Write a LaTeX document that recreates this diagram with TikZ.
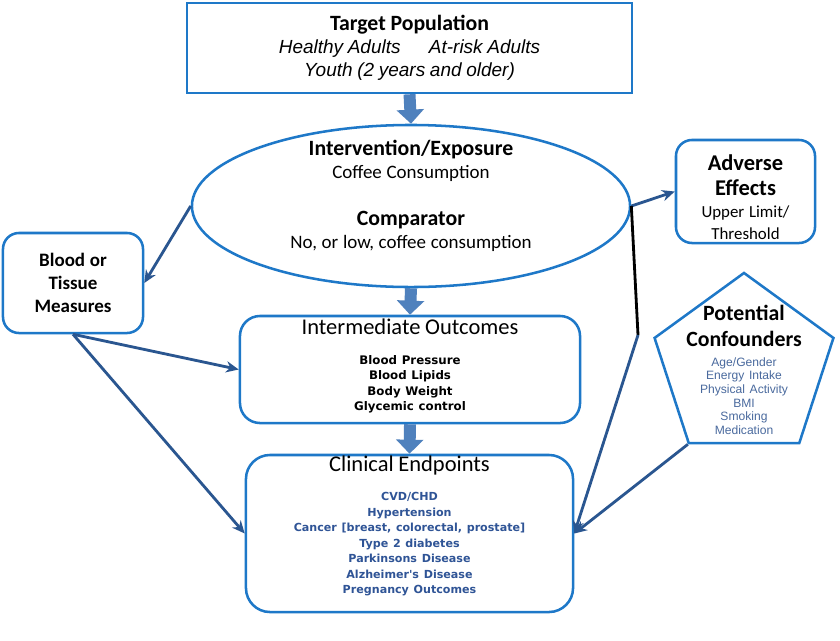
\documentclass[tikz,border=0pt]{standalone}
\usepackage{fontspec}
\setmainfont{Carlito}
\newfontfamily\arialfont{Liberation Sans}
\newfontfamily\verdfont{DejaVu Sans}
\usetikzlibrary{arrows.meta,shapes.geometric}

\definecolor{boxblue}{HTML}{1E78C8}
\definecolor{arrowblue}{HTML}{2A5690}
\definecolor{fatblue}{HTML}{4F81BD}
\definecolor{listblue}{HTML}{2F5496}
\definecolor{confblue}{HTML}{4A6A9E}

\newcommand{\headbf}{\fontsize{15.5}{18.5}\selectfont\bfseries}
\newcommand{\headrm}{\fontsize{16}{19}\selectfont\mdseries}
\newcommand{\subrm}{\fontsize{13.5}{16.5}\selectfont\mdseries}
\newcommand{\listbf}[1]{\verdfont\fontsize{#1}{11}\selectfont\bfseries}

\begin{document}
\begin{tikzpicture}[
    x=0.025cm, y=-0.025cm,
    box/.style={draw=boxblue, line width=1.8pt, fill=white, align=center, inner sep=0pt},
    rbox/.style={box, rounded corners=0.4cm},
    line/.style={-{Stealth[length=9pt,width=8pt]}, line width=2pt, draw=arrowblue},
    fat/.style={-{Triangle[length=10pt,width=19pt]}, line width=8.5pt, draw=fatblue}
]
    \useasboundingbox[fill=white] (0,0) rectangle (840,640);

    % main column
    \node[box, text width=10.5cm, minimum width=11.125cm, minimum height=2.25cm] (target) at (409.5,48)
        {\headbf Target Population\par
         \arialfont\itshape\mdseries\fontsize{13.5}{16.4}\selectfont Healthy Adults\quad\ \ At-risk Adults\\
         Youth (2 years and older)\par};
    \node[box, ellipse, minimum width=10.95cm, minimum height=4.05cm] (expo) at (411,206) {};
    \node[align=center, text width=8cm] (expotext) at (411,196)
        {\headbf Intervention/Exposure\par
         \subrm Coffee Consumption\par\vspace{15pt}
         \headbf Comparator\par
         \subrm No, or low, coffee consumption\par};
    \node[rbox, rounded corners=0.5cm, text width=8cm, minimum width=8.5cm, minimum height=2.675cm] (inter) at (410,369.5)
        {\headrm Intermediate Outcomes\par\vspace{10pt}
         \listbf{8.4} Blood Pressure\\ Blood Lipids\\ Body Weight\\ Glycemic control\par\kern5pt};
    \node[rbox, rounded corners=0.6cm, text width=7.8cm, minimum width=8.175cm, minimum height=3.925cm] (clin) at (409.5,533.5)
        {\headrm Clinical Endpoints\par\vspace{10pt}
         \color{listblue}\listbf{7.9} CVD/CHD\\ Hypertension\\
         Cancer [breast, colorectal, prostate]\\ Type 2 diabetes\\
         Parkinsons Disease\\ Alzheimer's Disease\\ Pregnancy Outcomes\par\vspace{11pt}};

    % side boxes
    \node[rbox, text width=3.2cm, minimum width=3.5cm, minimum height=2.5cm] (blood) at (73,283)
        {\fontsize{13.5}{16.4}\selectfont\bfseries Blood or\\ Tissue\\ Measures\par};
    \node[rbox, text width=3.2cm, minimum width=3.475cm, minimum height=2.575cm] (adverse) at (745.5,191.5)
        {\fontsize{16}{17.8}\selectfont\bfseries\rule{0pt}{19pt}Adverse\\ Effects\par
         \fontsize{12}{15.5}\selectfont\mdseries Upper Limit/\\ Threshold\par};
    \node[box, regular polygon, regular polygon sides=5, minimum size=4.7cm] (conf) at (744,367) {};
    \node[align=center, text width=4cm] (conftext) at (744,370)
        {\fontsize{15.5}{18.5}\selectfont\bfseries Potential\\ Confounders\par\vspace{4pt}
         \color{confblue}\arialfont\mdseries\fontsize{8.6}{9.7}\selectfont Age/Gender\\ Energy Intake\\
         Physical Activity\\ BMI\\ Smoking\\ Medication\par};

    % connectors
    \coordinate (kink) at (638,335);
    \draw[fat] (target.south) -- (expo.north);
    \draw[fat] (expo.south) -- (inter.north);
    \draw[fat] (inter.south) -- (clin.north);
    \draw[line] (expo.west) -- (blood.east);
    \draw[line] (blood.south) -- (inter.west);
    \draw[line] (blood.south) -- (clin.west);
    \draw[line] (expo.east) -- (adverse.west);
    \draw[line width=2pt, black] (expo.east) -- (kink);
    \draw[line] (kink) -- (clin.east);
    \draw[line] (conf.corner 3) -- (clin.east);
\end{tikzpicture}
\end{document}
